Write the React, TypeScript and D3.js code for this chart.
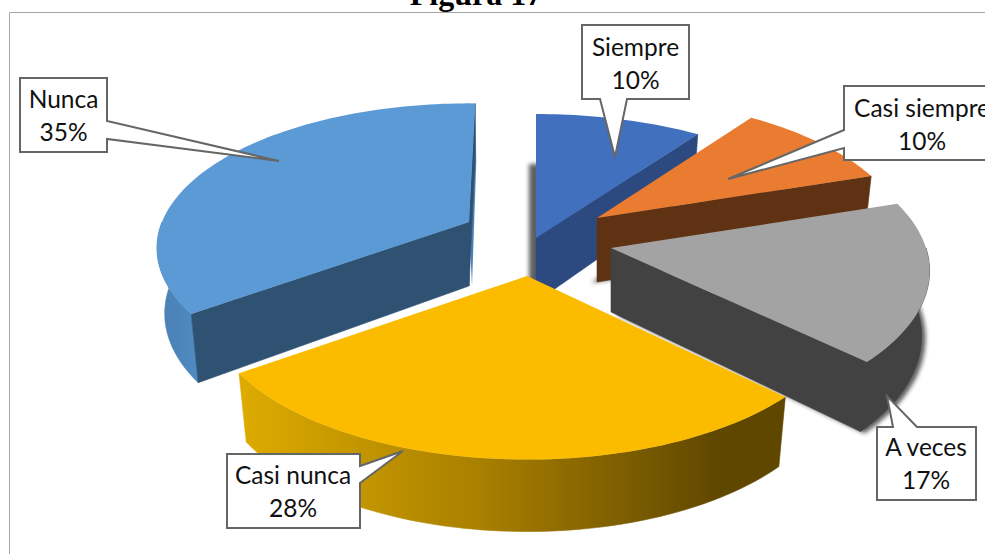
import React from "react";
import * as d3 from "d3";

const categories = ["Siempre", "Casi siempre", "A veces", "Casi nunca", "Nunca"];
const percents = [10, 10, 17, 28, 35];
const pieValues = [10, 10, 17, 28, 35];
const topColors = ["#4170bf", "#e97c30", "#a3a3a3", "#fbbc00", "#5b9ad5"];
const faceColors = ["#2c4a80", "#5f3213", "#424242", "#5f4700", "#2f5272"];
const rimColors = ["#2c4a80", "#5f3213", "#424242", "url(#yellowRim)", "url(#blueRim)"];

const W = 985;
const H = 555;

type Pt = [number, number];

// Projection parameters of each exploded slice (index follows categories)
const geometry = [
  { ax: 536, ay: 238, rx: 322, ry: 150, k: 0.21, twist0: 0, twist: 0, shadow: [-7, -6] },
  { ax: 597, ay: 218, rx: 307, ry: 145, k: 0.21, twist0: 0, twist: 0, shadow: [-6, 1] },
  { ax: 611, ay: 248, rx: 315, ry: 149.5, k: 0.15, twist0: 0, twist: 0, shadow: [4, 2] },
  { ax: 527, ay: 276, rx: 312, ry: 145, k: 0.21, twist0: 0.035, twist: 0, shadow: null },
  { ax: 469, ay: 222, rx: 307, ry: 140, k: 0.18, twist0: 0, twist: 0.024, shadow: null },
];
const drawOrder = [4, 0, 1, 2, 3];

const callouts = [
  { box: [582, 25, 689, 99], tip: [615, 157], base: [[627, 99], [600, 99]], cx: 635.5, y1: 56, y2: 89 },
  { box: [844, 86, 1000, 160], tip: [728, 179], base: [[844, 130], [844, 148]], cx: 922, y1: 117, y2: 150 },
  { box: [877, 427, 976, 500], tip: [887, 396], base: [[893, 427], [917, 427]], cx: 926, y1: 456, y2: 489 },
  { box: [227, 454, 360, 528], tip: [403, 451], base: [[360, 466], [360, 483]], cx: 293, y1: 484, y2: 517 },
  { box: [20, 78, 107, 152], tip: [279, 161], base: [[107, 121], [107, 139]], cx: 63.5, y1: 108, y2: 141 },
];

const line = d3.line<Pt>().x((d) => d[0]).y((d) => d[1]);

function project(g: (typeof geometry)[number], a: number): Pt {
  const s = 1 / (1 + g.k * Math.cos(a));
  return [g.ax + g.rx * Math.sin(a) * s, g.ay - g.ry * Math.cos(a) * s];
}

function drop(g: (typeof geometry)[number], p: Pt, a: number | null): Pt {
  const depth = a === null ? 64 : 64 - 8 * Math.cos(a);
  return [g.ax + (p[0] - g.ax) * 0.975, p[1] + depth];
}

function arcPts(g: (typeof geometry)[number], a0: number, a1: number): Pt[] {
  const n = Math.max(2, Math.ceil(Math.abs(a1 - a0) * 40));
  return d3.range(n + 1).map((i) => project(g, a0 + ((a1 - a0) * i) / n));
}

export default function App() {
  const arcs = d3
    .pie<number>()
    .sort(null)
    .startAngle(0)
    .endAngle(2 * Math.PI)(pieValues);

  return (
    <svg
      width={W}
      height={H}
      viewBox={`0 0 ${W} ${H}`}
      style={{ position: "fixed", left: 0, top: 0, background: "#fff" }}
    >
      <defs>
        <linearGradient id="yellowRim" gradientUnits="userSpaceOnUse" x1={245} x2={720} y1={0} y2={0}>
          <stop offset="0" stopColor="#dcaa00" />
          <stop offset="0.5" stopColor="#a87f00" />
          <stop offset="1" stopColor="#5f4700" />
        </linearGradient>
        <linearGradient id="blueRim" gradientUnits="userSpaceOnUse" x1={160} x2={200} y1={0} y2={0}>
          <stop offset="0" stopColor="#4a80b4" />
          <stop offset="1" stopColor="#4f8bc2" />
        </linearGradient>
        <filter id="soft" x="-20%" y="-20%" width="140%" height="140%">
          <feGaussianBlur stdDeviation="2.2" />
        </filter>
      </defs>

      <text
        x={476}
        y={5}
        textAnchor="middle"
        fontFamily="'Liberation Serif', serif"
        fontWeight="bold"
        fontSize={32}
        fill="#000"
      >
        Figura 17
      </text>
      <path d={`M${W},12.5H9.5V${H - 1}`} fill="none" stroke="#a6a6a6" strokeWidth={1} />

      {drawOrder.map((i) => {
        const g = geometry[i];
        const d = arcs[i];
        const a0 = d.startAngle + g.twist0;
        const a1 = d.endAngle + g.twist;
        const top = arcPts(g, a0, a1);
        const apex: Pt = [g.ax, g.ay];
        const apexLow: Pt = drop(g, apex, null);
        const rimStart = top[0];
        const rimEnd = top[top.length - 1];

        const lo = Math.max(a0, Math.PI / 2);
        const hi = Math.min(a1, (3 * Math.PI) / 2);
        const outer = hi > lo ? arcPts(g, lo, hi) : [];
        const outerLow = outer.map((p, j) => drop(g, p, lo + ((hi - lo) * j) / Math.max(1, outer.length - 1)));

        const bottomPoly: Pt[] = [
          apexLow,
          ...top.map((p, j) => drop(g, p, a0 + ((a1 - a0) * j) / (top.length - 1))),
        ];

        return (
          <g key={categories[i]}>
            {g.shadow && (
              <path
                d={line(bottomPoly.map((p) => [p[0] + g.shadow![0], p[1] + g.shadow![1]] as Pt)) + "Z"}
                fill="#2a2a2a"
                opacity={0.75}
                filter="url(#soft)"
              />
            )}
            {outer.length > 0 && (
              <path
                d={line([...outer, ...outerLow.slice().reverse()]) + "Z"}
                fill={rimColors[i]}
                stroke={rimColors[i]}
                strokeWidth={0.6}
              />
            )}
            {g.twist > 0 && (
              <path
                d={line([rimEnd, [rimEnd[0] + 1, rimEnd[1] + 58], [apexLow[0] + 3, apexLow[1]], apex]) + "Z"}
                fill="#4a82b8"
              />
            )}
            {Math.sin(a0) < -0.01 && (
              <path
                d={line([apex, rimStart, drop(g, rimStart, a0), apexLow]) + "Z"}
                fill={faceColors[i]}
                stroke={faceColors[i]}
                strokeWidth={0.6}
              />
            )}
            {Math.sin(a1) > 0.01 && (
              <path
                d={line([apex, rimEnd, drop(g, rimEnd, a1), apexLow]) + "Z"}
                fill={faceColors[i]}
                stroke={faceColors[i]}
                strokeWidth={0.6}
              />
            )}
            <path d={line([apex, ...top]) + "Z"} fill={topColors[i]} />
          </g>
        );
      })}

      {callouts.map((c, i) => {
        const [x0, y0, x1, y1] = c.box;
        const [b0, b1] = c.base as Pt[];
        const tip = c.tip as Pt;
        let pts: Pt[];
        if (b0[1] === y1 && b1[1] === y1) {
          pts = [[x0, y0], [x1, y0], [x1, y1], b0, tip, b1, [x0, y1]];
        } else if (b0[1] === y0 && b1[1] === y0) {
          pts = [[x0, y0], b0, tip, b1, [x1, y0], [x1, y1], [x0, y1]];
        } else if (b0[0] === x1) {
          pts = [[x0, y0], [x1, y0], b0, tip, b1, [x1, y1], [x0, y1]];
        } else {
          pts = [[x0, y0], [x1, y0], [x1, y1], [x0, y1], b1, tip, b0];
        }
        return (
          <g key={categories[i] + "-label"}>
            <path d={line(pts) + "Z"} fill="#fff" stroke="#666" strokeWidth={2} strokeLinejoin="miter" />
            <g fontFamily="Lato, 'Open Sans', sans-serif" fontSize={24.5} fill="#111" textAnchor="middle">
              <text x={c.cx} y={c.y1}>{categories[i]}</text>
              <text x={c.cx} y={c.y2}>{percents[i]}%</text>
            </g>
          </g>
        );
      })}
    </svg>
  );
}
